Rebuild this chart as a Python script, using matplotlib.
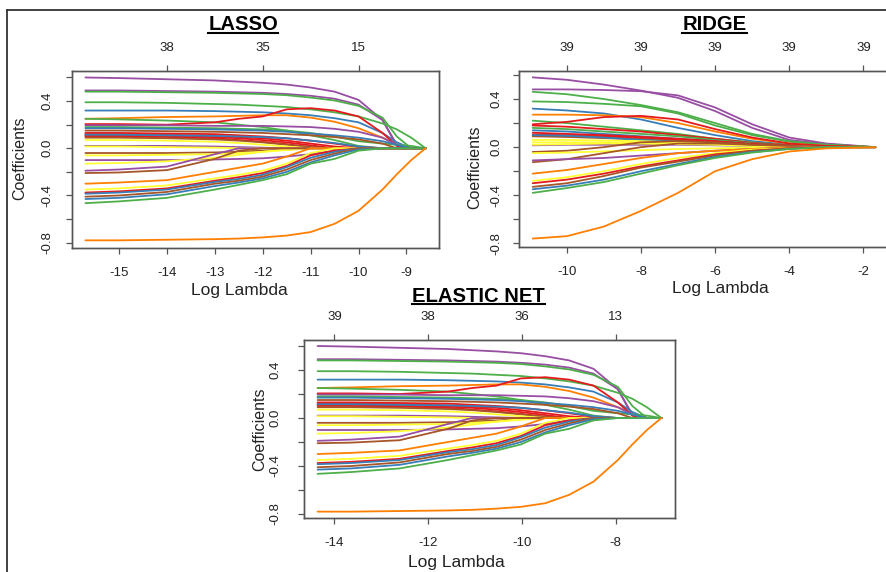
import matplotlib
matplotlib.use('Agg')
import matplotlib.pyplot as plt
from matplotlib.lines import Line2D

plt.rcParams['font.family'] = ['Liberation Sans', 'DejaVu Sans']
plt.rcParams['axes.unicode_minus'] = False

# ---------------- data ----------------
palette = {'R': '#E41A1C', 'B': '#377EB8', 'G': '#4DAF4A', 'P': '#984EA3',
           'O': '#FF7F00', 'Y': '#FFFF33', 'N': '#A65628'}

# LASSO coefficient paths (log lambda knots, one list per predictor)
lasso_log_lambda = [-15.7, -15, -14, -13, -12.5, -12, -11.5, -11, -10.5, -10, -9.5, -9.2, -8.9, -8.6]
lasso_colors = ['P', 'P', 'G', 'G', 'B', 'O', 'G', 'R', 'P', 'G', 'B', 'N', 'R', 'R', 'R', 'R', 'B', 'N',
                'Y', 'P', 'Y', 'N', 'Y', 'P', 'Y', 'P', 'N', 'O', 'Y', 'R', 'B', 'N', 'B', 'G', 'O']
lasso_coefs = [
    [0.60, 0.595, 0.585, 0.575, 0.565, 0.555, 0.54, 0.515, 0.48, 0.41, 0.24, 0.02, 0, 0],
    [0.49, 0.49, 0.485, 0.48, 0.475, 0.47, 0.46, 0.445, 0.42, 0.37, 0.24, 0.03, 0, 0],
    [0.48, 0.48, 0.475, 0.47, 0.465, 0.46, 0.45, 0.43, 0.405, 0.36, 0.26, 0.10, 0, 0],
    [0.39, 0.39, 0.385, 0.375, 0.37, 0.36, 0.35, 0.33, 0.305, 0.27, 0.21, 0.16, 0.09, 0],
    [0.32, 0.32, 0.32, 0.315, 0.31, 0.305, 0.295, 0.28, 0.255, 0.22, 0.13, 0.05, 0, 0],
    [0.25, 0.255, 0.265, 0.27, 0.275, 0.28, 0.28, 0.26, 0.225, 0.17, 0.09, 0.03, 0, 0],
    [0.25, 0.245, 0.235, 0.22, 0.20, 0.18, 0.15, 0.11, 0.07, 0.02, 0, 0, 0, 0],
    [0.205, 0.205, 0.20, 0.22, 0.25, 0.27, 0.33, 0.34, 0.32, 0.27, 0.13, 0.02, 0, 0],
    [0.195, 0.195, 0.195, 0.19, 0.19, 0.19, 0.185, 0.18, 0.165, 0.14, 0.09, 0.03, 0, 0],
    [0.18, 0.18, 0.175, 0.17, 0.165, 0.16, 0.15, 0.13, 0.10, 0.06, 0.04, 0.03, 0.02, 0],
    [0.17, 0.17, 0.165, 0.16, 0.155, 0.15, 0.14, 0.125, 0.11, 0.09, 0.06, 0.03, 0, 0],
    [0.15, 0.15, 0.145, 0.14, 0.135, 0.13, 0.12, 0.11, 0.095, 0.075, 0.04, 0, 0, 0],
    [0.13, 0.13, 0.125, 0.12, 0.11, 0.10, 0.085, 0.065, 0.04, 0.01, 0, 0, 0, 0],
    [0.12, 0.12, 0.115, 0.105, 0.095, 0.085, 0.065, 0.04, 0.015, 0, 0, 0, 0, 0],
    [0.11, 0.11, 0.105, 0.095, 0.085, 0.07, 0.05, 0.025, 0, 0, 0, 0, 0, 0],
    [0.10, 0.10, 0.095, 0.085, 0.07, 0.055, 0.035, 0.01, 0, 0, 0, 0, 0, 0],
    [0.115, 0.115, 0.11, 0.105, 0.10, 0.095, 0.085, 0.065, 0.045, 0.015, 0, 0, 0, 0],
    [0.09, 0.09, 0.085, 0.075, 0.065, 0.05, 0.03, 0.01, 0, 0, 0, 0, 0, 0],
    [0.07, 0.07, 0.065, 0.055, 0.045, 0.03, 0.015, 0, 0, 0, 0, 0, 0, 0],
    [0.02, 0.02, 0.02, 0.015, 0.01, 0.005, 0, 0, 0, 0, 0, 0, 0, 0],
    [0.015, 0.015, 0.01, 0.005, 0, 0, 0, 0, 0, 0, 0, 0, 0, 0],
    [-0.04, -0.04, -0.04, -0.035, -0.03, -0.02, -0.01, 0, 0, 0, 0, 0, 0, 0],
    [-0.06, -0.06, -0.055, -0.05, -0.04, -0.03, -0.015, 0, 0, 0, 0, 0, 0, 0],
    [-0.10, -0.10, -0.10, -0.095, -0.09, -0.085, -0.07, -0.05, -0.02, 0, 0, 0, 0, 0],
    [-0.13, -0.125, -0.11, -0.08, -0.055, -0.03, -0.01, 0, 0, 0, 0, 0, 0, 0],
    [-0.19, -0.18, -0.155, -0.05, 0, 0, 0, 0, 0, 0, 0, 0, 0, 0],
    [-0.21, -0.205, -0.185, -0.09, -0.02, 0, 0, 0, 0, 0, 0, 0, 0, 0],
    [-0.30, -0.29, -0.27, -0.20, -0.165, -0.13, -0.07, 0, 0, 0, 0, 0, 0, 0],
    [-0.35, -0.34, -0.315, -0.255, -0.225, -0.19, -0.13, -0.04, 0, 0, 0, 0, 0, 0],
    [-0.375, -0.365, -0.34, -0.275, -0.245, -0.21, -0.15, -0.06, -0.02, 0, 0, 0, 0, 0],
    [-0.385, -0.375, -0.35, -0.285, -0.26, -0.225, -0.16, -0.08, -0.03, 0, 0, 0, 0, 0],
    [-0.41, -0.40, -0.37, -0.30, -0.275, -0.24, -0.18, -0.10, -0.045, 0, 0, 0, 0, 0],
    [-0.43, -0.42, -0.39, -0.32, -0.29, -0.255, -0.20, -0.12, -0.06, -0.01, 0, 0, 0, 0],
    [-0.465, -0.45, -0.42, -0.35, -0.31, -0.27, -0.22, -0.13, -0.09, -0.02, 0, 0, 0, 0],
    [-0.78, -0.78, -0.775, -0.77, -0.765, -0.755, -0.74, -0.71, -0.64, -0.53, -0.35, -0.22, -0.10, 0],
]
lasso_bottom_ticks = [-15, -14, -13, -12, -11, -10, -9]
lasso_top_ticks = [-14, -12, -10]
lasso_top_labels = ['38', '35', '15']

# RIDGE coefficient paths
ridge_log_lambda = [-10.92, -10, -9, -8, -7, -6, -5, -4, -3, -1.68]
ridge_colors = ['P', 'P', 'G', 'G', 'B', 'O', 'G', 'R', 'R', 'G', 'B', 'R', 'R', 'R', 'N', 'B',
                'Y', 'Y', 'P', 'Y', 'N', 'Y', 'N', 'P', 'O', 'Y', 'R', 'N', 'B', 'G', 'O']
ridge_coefs = [
    [0.58, 0.56, 0.52, 0.47, 0.41, 0.30, 0.16, 0.06, 0.025, 0],
    [0.48, 0.48, 0.475, 0.465, 0.43, 0.33, 0.19, 0.08, 0.03, 0],
    [0.46, 0.44, 0.40, 0.35, 0.29, 0.20, 0.11, 0.05, 0.02, 0],
    [0.38, 0.375, 0.36, 0.34, 0.28, 0.18, 0.10, 0.045, 0.02, 0],
    [0.32, 0.305, 0.28, 0.23, 0.16, 0.10, 0.05, 0.02, 0.01, 0],
    [0.27, 0.27, 0.265, 0.25, 0.20, 0.13, 0.07, 0.03, 0.01, 0],
    [0.22, 0.20, 0.17, 0.14, 0.11, 0.07, 0.04, 0.015, 0.005, 0],
    [0.19, 0.21, 0.25, 0.26, 0.23, 0.15, 0.08, 0.03, 0.01, 0],
    [0.18, 0.17, 0.15, 0.13, 0.10, 0.07, 0.035, 0.015, 0.005, 0],
    [0.16, 0.15, 0.13, 0.11, 0.09, 0.06, 0.03, 0.01, 0, 0],
    [0.14, 0.13, 0.11, 0.09, 0.07, 0.05, 0.025, 0.01, 0, 0],
    [0.12, 0.11, 0.10, 0.085, 0.07, 0.05, 0.025, 0.01, 0, 0],
    [0.105, 0.10, 0.09, 0.08, 0.065, 0.045, 0.025, 0.01, 0, 0],
    [0.095, 0.09, 0.085, 0.075, 0.06, 0.04, 0.02, 0.008, 0, 0],
    [0.09, 0.085, 0.075, 0.065, 0.05, 0.035, 0.02, 0.008, 0, 0],
    [0.10, 0.095, 0.08, 0.06, 0.045, 0.03, 0.015, 0.005, 0, 0],
    [0.06, 0.06, 0.055, 0.05, 0.04, 0.03, 0.015, 0.005, 0, 0],
    [0.04, 0.04, 0.04, 0.04, 0.035, 0.025, 0.012, 0.005, 0, 0],
    [0.015, 0.02, 0.02, 0.02, 0.02, 0.015, 0.01, 0.005, 0, 0],
    [0.02, 0.025, 0.03, 0.03, 0.025, 0.02, 0.01, 0.005, 0, 0],
    [-0.04, -0.03, 0.0, 0.04, 0.05, 0.04, 0.02, 0.01, 0, 0],
    [-0.05, -0.045, -0.035, -0.025, -0.015, -0.01, -0.005, 0, 0, 0],
    [-0.125, -0.10, -0.05, 0.0, 0.03, 0.03, 0.02, 0.01, 0, 0],
    [-0.11, -0.10, -0.09, -0.07, -0.05, -0.03, -0.015, -0.005, 0, 0],
    [-0.22, -0.19, -0.14, -0.09, -0.05, -0.03, -0.015, -0.005, 0, 0],
    [-0.28, -0.25, -0.20, -0.14, -0.09, -0.05, -0.02, -0.01, 0, 0],
    [-0.30, -0.27, -0.22, -0.16, -0.11, -0.06, -0.03, -0.01, 0, 0],
    [-0.33, -0.30, -0.24, -0.17, -0.12, -0.07, -0.03, -0.01, 0, 0],
    [-0.35, -0.32, -0.27, -0.20, -0.14, -0.08, -0.04, -0.015, 0, 0],
    [-0.38, -0.34, -0.29, -0.22, -0.15, -0.09, -0.045, -0.015, 0, 0],
    [-0.76, -0.74, -0.66, -0.53, -0.38, -0.20, -0.10, -0.036, -0.01, 0],
]
ridge_bottom_ticks = [-10, -8, -6, -4, -2]
ridge_top_ticks = [-10, -8, -6, -4, -2]
ridge_top_labels = ['39', '39', '39', '39', '39']

# ELASTIC NET: same path shapes as LASSO, read at these log lambda knots
enet_log_lambda = [-14.36, -13.64, -12.61, -11.58, -11.06, -10.54, -10.02, -9.5, -8.99, -8.47, -7.95, -7.64, -7.33, -7.02]
enet_colors = lasso_colors
enet_coefs = lasso_coefs
enet_bottom_ticks = [-14, -12, -10, -8]
enet_top_ticks = [-14, -12, -10, -8]
enet_top_labels = ['39', '38', '36', '13']

y_ticks = [-0.8, -0.6, -0.4, -0.2, 0.0, 0.2, 0.4, 0.6]
y_tick_labels = ['-0.8', '', '-0.4', '', '0.0', '', '0.4', '']

# ---------------- figure ----------------
W, H = 886, 572
fig = plt.figure(figsize=(W / 100, H / 100), dpi=100)
fig.patch.set_facecolor('white')

GRAY = '#555555'


def px_axes(l, r, t, b):
    return fig.add_axes([l / W, 1 - b / H, (r - l) / W, (b - t) / H])


def panel(box, xlim, ylim, xs, colors, coefs, bticks, tticks, tlabels, ypad, xpad, tpad):
    ax = px_axes(*box)
    for c, vals in zip(colors, coefs):
        ax.plot(xs, vals, color=palette[c], lw=1.3, solid_joinstyle='round', solid_capstyle='round')
    ax.set_xlim(*xlim)
    ax.set_ylim(*ylim)
    ax.set_xticks(bticks)
    ax.set_xticklabels([str(t) for t in bticks])
    ax.set_yticks(y_ticks)
    ax.set_yticklabels(y_tick_labels)
    ax.tick_params(direction='out', length=4.5, width=0.9, color=GRAY,
                   labelsize=9.5, labelcolor='#222222')
    ax.tick_params(axis='x', pad=xpad)
    ax.tick_params(axis='y', pad=ypad, labelrotation=90)
    for lab in ax.get_yticklabels():
        lab.set_va('center')
    for s in ax.spines.values():
        s.set_color(GRAY)
        s.set_linewidth(1.0)
    ax2 = ax.twiny()
    ax2.set_xlim(*xlim)
    ax2.set_xticks(tticks)
    ax2.set_xticklabels(tlabels)
    ax2.tick_params(direction='out', length=4.5, width=0.9, color=GRAY,
                    labelsize=9.5, labelcolor='#222222', pad=tpad)
    for s in ax2.spines.values():
        s.set_color(GRAY)
        s.set_linewidth(1.0)
    return ax


panel((72, 439, 71, 248), (-15.98, -8.32), (-0.845, 0.655),
      lasso_log_lambda, lasso_colors, lasso_coefs,
      lasso_bottom_ticks, lasso_top_ticks, lasso_top_labels, 9, 9, 8)
panel((519, 889, 71, 247), (-11.29, -1.31), (-0.83, 0.633),
      ridge_log_lambda, ridge_colors, ridge_coefs,
      ridge_bottom_ticks, ridge_top_ticks, ridge_top_labels, 7.5, 9, 8)
panel((304, 675, 340, 518), (-14.65, -6.73), (-0.833, 0.65),
      enet_log_lambda, enet_colors, enet_coefs,
      enet_bottom_ticks, enet_top_ticks, enet_top_labels, 12, 9, 8)


def ftext(x, y, s, **kw):
    return fig.text(x / W, 1 - y / H, s, **kw)


# axis labels
ftext(239, 291, 'Log Lambda', ha='center', va='center', fontsize=12.5, color='#222222')
ftext(720, 289, 'Log Lambda', ha='center', va='center', fontsize=12.5, color='#222222')
ftext(456, 563, 'Log Lambda', ha='center', va='center', fontsize=12.5, color='#222222')
ftext(20, 158, 'Coefficients', ha='center', va='center', rotation=90, fontsize=11.5, color='#222222')
ftext(475, 167, 'Coefficients', ha='center', va='center', rotation=90, fontsize=11.5, color='#222222')
ftext(260, 429, 'Coefficients', ha='center', va='center', rotation=90, fontsize=11.5, color='#222222')

# titles with underline
titles = [(243, 30, 'LASSO'), (714.5, 30.5, 'RIDGE'), (478.5, 302, 'ELASTIC NET')]
tobjs = []
for x, y, s in titles:
    tobjs.append(ftext(x, y, s, ha='center', va='baseline', fontsize=14.6,
                       fontweight='bold', color='black'))
fig.canvas.draw()
r = fig.canvas.get_renderer()
for (x, y, s), t in zip(titles, tobjs):
    bb = t.get_window_extent(r)
    yl = 1 - (y + 2.5) / H
    fig.add_artist(Line2D([bb.x0 / W, bb.x1 / W], [yl, yl], color='black', lw=1.5))

# outer frame lines
fig.add_artist(Line2D([7 / W, 1.0], [1 - 10 / H, 1 - 10 / H], color='#333333', lw=1.3))
fig.add_artist(Line2D([7 / W, 7 / W], [0, 1 - 10 / H], color='#333333', lw=1.3))

fig.savefig('out.png', dpi=100)
